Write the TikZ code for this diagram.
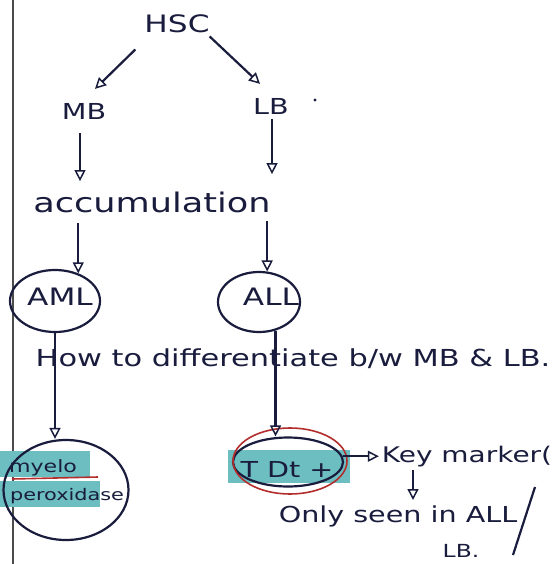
\documentclass[tikz,border=0pt]{standalone}
\usepackage{fontspec}
\newfontfamily\hand[FakeStretch=1.3]{DejaVu Sans}
\newcommand\handsz[1]{\hand\fontsize{#1}{#1}\selectfont}
\usetikzlibrary{arrows.meta,shapes.geometric,calc}
\definecolor{ink}{RGB}{25,28,60}
\definecolor{hl}{RGB}{108,190,192}
\definecolor{redink}{RGB}{180,45,45}
\begin{document}
\begin{tikzpicture}[x=1pt,y=-1pt, line width=2.2pt, draw=ink,
  txt/.style={inner sep=0pt, anchor=base, text=ink},
  arr/.style={draw=ink, line width=2.2pt, -{Triangle[open,length=11pt,width=11pt,line width=1.5pt]}},
  oval/.style={ellipse, draw=ink, line width=2.2pt, inner sep=0pt}]
\useasboundingbox[fill=white] (0,0) rectangle (554,564);
\draw[line width=1.2pt, black!70] (13,0) -- (13,564);
% top
\node[txt, font=\handsz{24}] (hsc) at (177,33) {HSC};
\node[txt, font=\handsz{22}] (mb) at (84,120) {MB};
\node[txt, font=\handsz{22}] (lb) at (271,115) {LB};
\fill[ink] (315,100) circle (1.6pt);
\node[txt, font=\handsz{27}] (acc) at (152,212) {accumulation};
% AML / ALL
\node[oval, minimum width=90pt, minimum height=62pt] (aml) at (55,301) {};
\node[txt, font=\handsz{24}] (amlt) at (60,305) {AML};
\node[oval, minimum width=82pt, minimum height=60pt] (all) at (259,302) {};
\node[txt, font=\handsz{24}] (allt) at (271,305) {ALL};
\node[txt, font=\handsz{23.4}] (how) at (293,366) {How to differentiate b/w MB \& LB.};
% highlights
\fill[hl] (0,451) rectangle (90,477);
\fill[hl] (0,481) rectangle (100,507);
\fill[hl] (228,450) rectangle (350,483);
% myeloperoxidase
\node[oval, minimum width=125pt, minimum height=100pt] (mpo) at (66,490) {};
\node[txt, font=\handsz{17}] (myelo) at (43,472) {myelo};
\node[txt, font=\handsz{16}] (perox) at (67,500) {peroxidase};
\draw[redink, line width=1.6pt] (12,479) -- (98,477);
% TdT
\node[oval, minimum width=110pt, minimum height=49pt] (tdt) at (288,462) {};
\node[ellipse, draw=redink, line width=1.6pt, inner sep=0pt, minimum width=114pt, minimum height=66pt] (tdtred) at (290,461) {};
\node[txt, font=\handsz{22}] (tdtt) at (287,477) {T Dt +};
\node[txt, font=\handsz{21.5}] (key) at (467,462) {Key marker(};
\node[txt, font=\handsz{22}] (only) at (398,522) {Only seen in ALL};
\draw[ink, line width=2.2pt] (535,487) -- (513,555);
\node[txt, font=\handsz{18}] (lbb) at (461,557) {LB.};
% connectors
\draw[arr] ([shift={(-8,15)}]hsc.south west) -- ([shift={(11,-14)}]mb.north);
\draw[arr] ([shift={(-1,2)}]hsc.south east) -- ([shift={(-11,-14)}]lb.north);
\draw[arr] ([shift={(-4,12)}]mb.south) -- ++(0,48);
\draw[arr] ([shift={(1,3)}]lb.south) -- ++(0,55);
\draw[arr] ($(acc.south -| aml.50)+(0,10)$) -- (aml.50);
\draw[arr] ($(acc.south -| all.75)+(0,8)$) -- (all.75);
\draw[arr] (aml.south) -- (aml.south |- mpo.north);
\draw[arr] (all.300) -- (all.300 |- tdt.north);
\draw[arr, shorten >=2pt] (tdt.6) -- (tdt.6 -| key.west);
\draw[arr] ([shift={(-54,8)}]key.base) -- ++(0,30);
\end{tikzpicture}
\end{document}
